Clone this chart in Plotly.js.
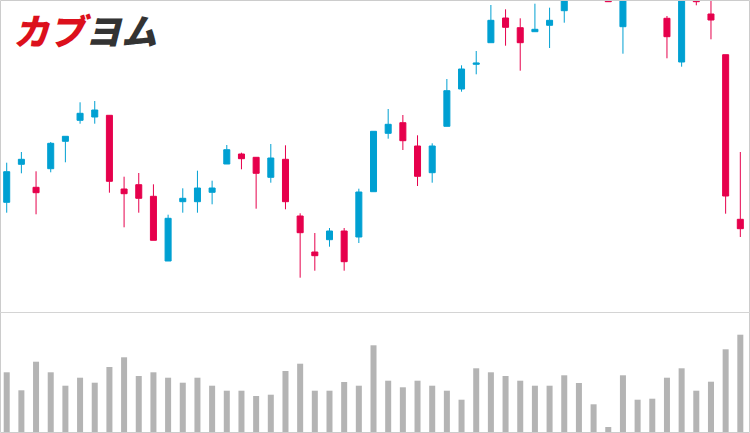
<!DOCTYPE html>
<html>
<head>
<meta charset="utf-8">
<script src="https://cdn.plot.ly/plotly-3.0.1.min.js"></script>
<style>html,body{margin:0;padding:0;background:#fff;}#chart{width:750px;height:433px;}</style>
</head>
<body>
<div id="chart"></div>
<script>
// Values (price units arbitrary, higher = up)
const openP  = [109.7,147.7,124.7,143.3,170.7,191.7,195,196.7,123,127.3,
                115.7,51,110.3,110.3,119.7,148,158,154.7,134.7,152.7,
                96,60,72.3,81,75,120.3,178.7,189.3,166,139.3,
                185.7,223,247.7,269.3,294,284.3,280.3,286.7,301.3,320,
                338,318,285.3,332,345,293.7,250,335,298,257.3,92.7];
const highP  = [149.3,160,140.7,170,175.7,209.7,211,196.7,135.3,139,
                127.7,97.3,123.7,141.3,131.3,167,159.3,155,168,166.7,
                98.7,79,84,84,123.3,180.7,203,197,176.7,168.7,
                233,246.7,261,307,302.7,293.7,308.3,304.3,330,342,
                345,324,340,350,352,296,338,340,318,257.3,160];
const lowP   = [99.3,138.7,97.7,139.7,149.7,188.3,188.3,119.3,84.7,99.3,
                71.7,51,99.3,99.3,107.7,148,142.7,103.3,129.3,102.7,
                34.3,41.3,65.3,41.3,69,120.3,173.3,162,126,129.3,
                185.7,220.3,237.7,269.3,266.3,241.3,280.3,264,289.3,314,
                318,310,258.3,320,318,253.7,245.3,306.7,272.7,98.3,75];
const closeP = [140.3,152.7,119.3,168.7,175.7,198.7,202,130.7,118.3,113.7,
                71.7,93.7,113.7,124,124,162.3,153.3,138.7,154,110.3,
                79.3,56.3,81,50.3,120,180.7,187.7,171.3,135.7,166,
                221.3,243,249,291.7,284.7,269.3,282.7,291.7,322,335,
                326,310.3,335,345,325,275.3,330,310.3,292,116,83.3];
const volume = [59.7,41.7,70.3,59.7,46.3,54.3,49.3,65,74.7,56,
                59.7,54.3,49.3,54.3,46.3,41.3,41.3,36,37.3,61,
                68.3,41.3,41.3,50,46.3,86.7,51.3,44.7,51.3,46.3,
                41.3,32.3,63.7,59.7,56,51.3,46.3,46.3,56.7,49,
                27.7,5,56.7,32.3,33.3,54.3,63.7,41.3,50.3,82.7,
                97.3];
const days = openP.map((_, i) => i);

const BLUE = '#00a0d2', RED = '#e6004c', GRAY = '#b4b4b4', BORDER = '#cccccc';
const H = 433, W = 750;

const traces = [
  {
    type: 'candlestick', x: days, open: openP, high: highP, low: lowP, close: closeP,
    xaxis: 'x', yaxis: 'y',
    increasing: {line: {color: BLUE, width: 1}, fillcolor: BLUE},
    decreasing: {line: {color: RED, width: 1}, fillcolor: RED},
    whiskerwidth: 0, hoverinfo: 'skip', showlegend: false
  },
  {
    type: 'bar', x: days, y: volume, xaxis: 'x', yaxis: 'y2',
    marker: {color: GRAY, line: {width: 0}}, width: 0.41,
    hoverinfo: 'skip', showlegend: false
  }
];

const layout = {
  width: W, height: H,
  margin: {l: 0, r: 0, t: 0, b: 0},
  paper_bgcolor: '#fff', plot_bgcolor: '#fff',
  showlegend: false, hovermode: false,
  boxgap: 0.59, boxgroupgap: 0,
  xaxis: {range: [-0.457, 50.66], visible: false, showgrid: false, zeroline: false,
          rangeslider: {visible: false}, fixedrange: true},
  yaxis: {domain: [121 / H, 1], range: [0, 312], visible: false, showgrid: false, zeroline: false},
  yaxis2: {domain: [1 / H, 120 / H], range: [0, 119], visible: false, showgrid: false, zeroline: false},
  shapes: [
    {type: 'rect', xref: 'paper', yref: 'paper', x0: 0.5 / W, x1: 749.5 / W, y0: 0.5 / H, y1: 432.5 / H,
     line: {color: BORDER, width: 1}, layer: 'above'},
    {type: 'line', xref: 'paper', yref: 'paper', x0: 0, x1: 1, y0: 120.5 / H, y1: 120.5 / H,
     line: {color: '#d4d4d4', width: 1}, layer: 'above'}
  ],
  annotations: [
    {xref: 'paper', yref: 'paper', x: 11 / W, y: (H - 29) / H, xanchor: 'left', yanchor: 'middle',
     showarrow: false,
     text: '<span style="color:#dc101c">カブ</span><span style="color:#333333">ヨム</span>',
     font: {family: 'Noto Sans CJK JP', size: 36, weight: 900, style: 'italic'}}
  ]
};

Plotly.newPlot('chart', traces, layout, {staticPlot: true, displayModeBar: false});
</script>
</body>
</html>
